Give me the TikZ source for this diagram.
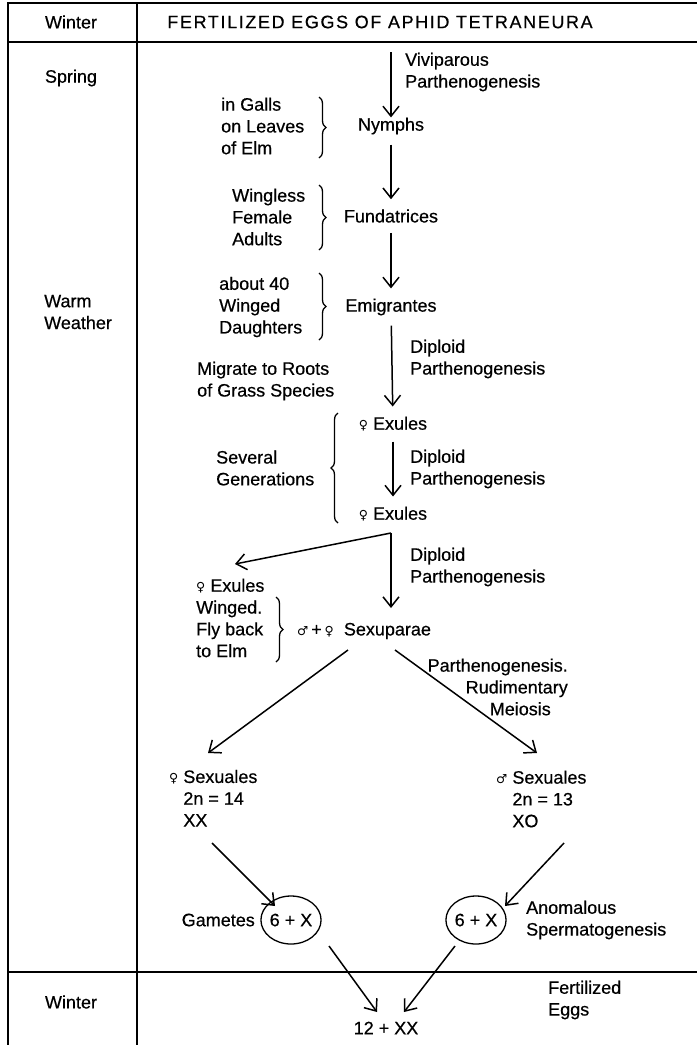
\documentclass[tikz,border=0pt]{standalone}
\usepackage{fontspec}
\setmainfont{Liberation Sans}[FakeBold=0.5]
\newfontfamily\titlefont{Liberation Sans}[FakeBold=0.5,LetterSpace=9]
\newfontfamily\symfont{DejaVu Sans}
\usetikzlibrary{arrows.meta,decorations.pathreplacing,shapes.geometric}
\newcommand\fem{{\symfont\fontsize{12.5}{12.5}\selectfont ♀}}
\newcommand\mal{{\symfont\fontsize{12.5}{12.5}\selectfont ♂}}
\newcommand\txtsize{\fontsize{18}{21.8}\selectfont}
\tikzset{
  txt/.style={font=\txtsize, inner sep=0pt, align=left},
  arr/.style={line width=1.5pt, -{Straight Barb[length=10pt,width=16pt,line width=1.5pt]}},
  rule/.style={line width=1.3pt},
  brc/.style={line width=1.3pt, decorate, decoration={brace, amplitude=7pt}},
  egg/.style={ellipse, draw, line width=1.3pt, minimum width=58pt, minimum height=48pt, inner sep=0pt, font=\txtsize},
}
\begin{document}
\begin{tikzpicture}[x=1pt,y=-1pt]
\useasboundingbox (0,0) rectangle (697,1045);

% table frame
\draw[rule] (8,1045) -- (8,3) -- (697,3);
\draw[rule] (8,42) -- (697,42);
\draw[rule] (137,3) -- (137,1045);
\draw[rule] (8,972) -- (697,972);

% season column
\node[txt] (w1) at (71,22) {Winter};
\node[txt] (spring) at (71,78) {Spring};
\node[txt, anchor=west] (warm) at (44,312) {Warm\\Weather};
\node[txt] (w2) at (71,1002) {Winter};

% main chain
\node[txt, font=\txtsize\titlefont] (title) at (380,22) {FERTILIZED EGGS OF APHID TETRANEURA};
\coordinate (start) at (391,52);
\node[txt] (nymphs) at (391,126) {Nymphs};
\node[txt] (fund) at (391,216) {Fundatrices};
\node[txt] (emig) at (391,307) {Emigrantes};
\node[txt] (ex1) at (393,424) {\fem\ Exules};
\node[txt] (ex2) at (393,514) {\fem\ Exules};
\node[txt] (sexu) at (364,631) {\mal\,+\,\fem\ \ Sexuparae};
\node[txt, anchor=west] (exw) at (196,618) {\fem\ Exules\\Winged.\\Fly back\\to Elm};
\node[txt, anchor=west] (sf) at (169,799) {\fem\ Sexuales\\\phantom{\fem\ }2n = 14\\\phantom{\fem\ }XX};
\node[txt, anchor=west] (sm) at (496,799) {\mal\ Sexuales\\\phantom{\mal\ }2n = 13\\\phantom{\mal\ }XO};
\node[egg] (gf) at (291,920) {6 + X};
\node[egg] (gm) at (476,920) {6 + X};
\node[txt] (zyg) at (386,1028) {12 + XX};

% side notes
\node[txt, anchor=west] (l1) at (405,72) {Viviparous\\Parthenogenesis};
\node[txt, anchor=west] (n1) at (221,126) {in Galls\\on Leaves\\of Elm};
\node[txt, anchor=west] (n2) at (232,217) {Wingless\\Female\\Adults};
\node[txt, anchor=west] (n3) at (219,307) {about 40\\Winged\\Daughters};
\node[txt, anchor=west] (l2) at (410,359) {Diploid\\Parthenogenesis};
\node[txt, anchor=west] (n4) at (197,381) {Migrate to Roots\\of Grass Species};
\node[txt, anchor=west] (n5) at (216,468) {Several\\Generations};
\node[txt, anchor=west] (l3) at (410,469) {Diploid\\Parthenogenesis};
\node[txt, anchor=west] (l4) at (410,567) {Diploid\\Parthenogenesis};
\node[txt, anchor=east, align=right] (l5) at (568,687) {Parthenogenesis.\\Rudimentary\\Meiosis\hspace*{17pt}};
\node[txt, anchor=east] (gam) at (255,920) {Gametes};
\node[txt, anchor=west] (anom) at (526,920) {Anomalous\\Spermatogenesis};
\node[txt, anchor=west] (fert) at (548,1000) {Fertilized\\Eggs};

% braces
\draw[brc] (319,97) -- (319,158);
\draw[brc] (319,185) -- (319,250);
\draw[brc] (319,273) -- (319,340);
\draw[brc] (338,523) -- (338,413);
\draw[brc] (276,597) -- (276,662);

% arrows
\draw[arr] (start) -- (nymphs);
\draw[arr, shorten <=10pt, shorten >=10pt] (nymphs) -- (fund);
\draw[arr, shorten <=10pt, shorten >=10pt] (fund) -- (emig);
\draw[arr, shorten <=10pt, shorten >=10pt] (emig) -- (ex1);
\draw[arr, shorten <=10pt, shorten >=10pt] (ex1) -- (ex2);
\coordinate (fork) at (391,533);
\draw[arr] (fork) -- (235,564);
\draw[arr] (fork) -- (391,608);
\draw[arr] (348,650) -- (208,753);
\draw[arr] (395,650) -- (537,753);
\draw[arr] (212,843) -- (275,906);
\draw[arr] (564,843) -- (505,906);
\draw[arr] (329,946) -- (377,1012);
\draw[arr] (455,946) -- (404,1012);
\end{tikzpicture}
\end{document}
